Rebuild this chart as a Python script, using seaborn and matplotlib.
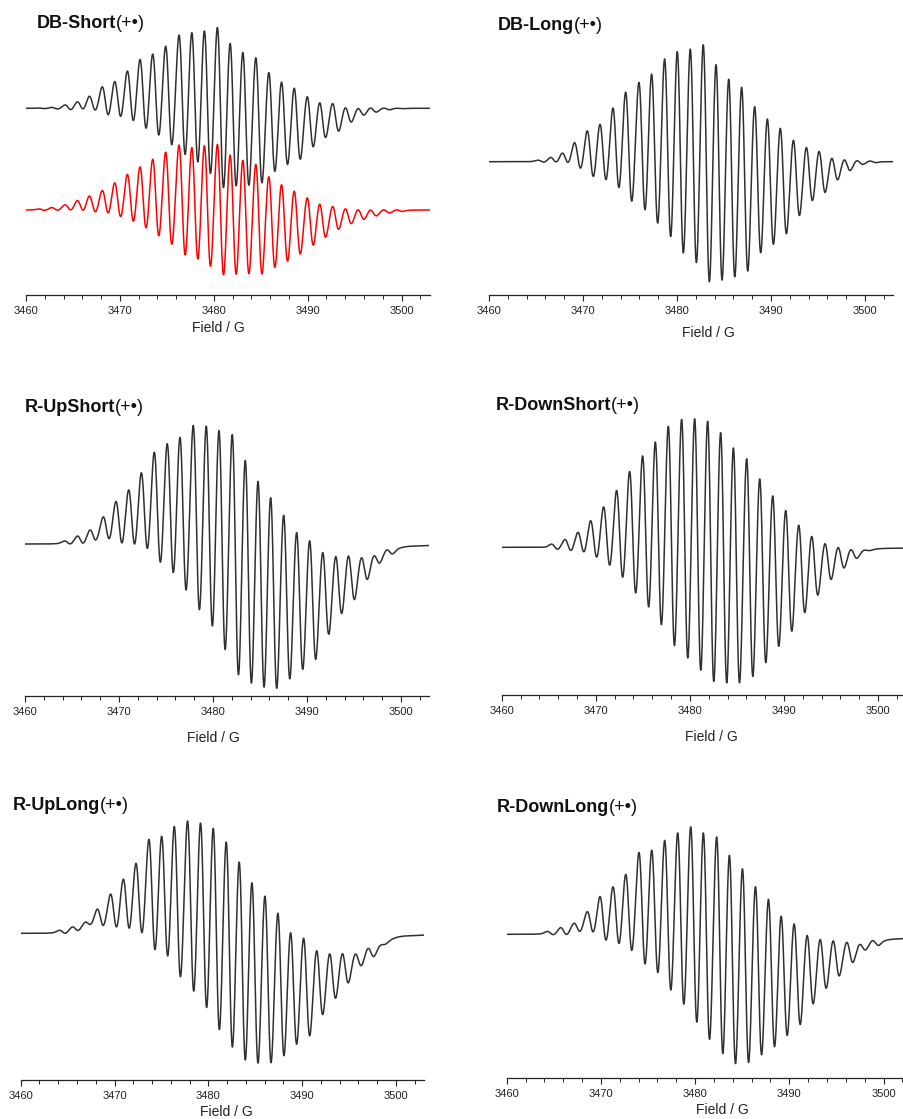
import numpy as np
import matplotlib
matplotlib.use("Agg")
import matplotlib.pyplot as plt
import seaborn as sns

# ---------------- data ----------------
# Each spectrum: hyperfine line centres (G), level of the upper extremum and of the
# lower extremum of every derivative line (a.u., relative to the baseline).

# DB-Short: experiment (black) and simulation (red)
DBS_FIELD = [3461.70, 3463.06, 3464.48, 3465.79, 3467.07, 3468.45, 3469.77, 3471.12, 3472.47,
             3473.82, 3475.20, 3476.63, 3477.98, 3479.32, 3480.71, 3482.06, 3483.41, 3484.80,
             3486.18, 3487.53, 3488.88, 3490.27, 3491.58, 3492.97, 3494.32, 3495.67, 3496.98,
             3498.40, 3499.75]
DBS_EXP_PEAK = [0.3, 0.8, 3.3, 6.7, 13.3, 22.3, 27.7, 39.3, 51.7, 56, 64.3, 75.7, 79, 81.7, 82.7,
                67.7, 59.3, 53.3, 38.3, 29.3, 22.3, 13.3, 9, 5.7, 1.7, 1.5, 1.0, 0.5, 0.3]
DBS_EXP_TROUGH = [-0.3, -1.0, -2.3, -2.3, -2.7, -8.3, -11, -15, -21.7, -29.3, -38.3, -49.3, -57.7,
                  -66.7, -82.3, -81.7, -80, -76.7, -65.7, -58.3, -53, -41, -29.7, -24.3, -15, -6.7,
                  -4, -1.5, -0.3]
DBS_SIM_PEAK = [1.0, 2.7, 5.3, 10, 15, 20, 28.3, 37.7, 44.3, 52.7, 61, 66, 64.3, 69.3, 67.3, 56.7,
                54, 47.7, 34.3, 28.3, 21.7, 13.3, 8.3, 5, 2.3, 1, 1, 0.5, 0.5]
DBS_SIM_TROUGH = [-0.7, -0.5, -1, -1.7, -2.7, -5, -9, -12.7, -20.7, -28.3, -34.3, -47.7, -54, -57,
                  -67.3, -68.7, -65, -65.3, -60.7, -53.3, -45, -37.3, -28.3, -20, -14.3, -10, -6,
                  -3.3, -1.5]

# DB-Long
DBL_FIELD = [3465.53, 3466.88, 3468.12, 3469.43, 3470.78, 3472.13, 3473.51, 3474.86, 3476.28,
             3477.62, 3479.01, 3480.35, 3481.74, 3483.12, 3484.47, 3485.82, 3487.20, 3488.58,
             3489.93, 3491.31, 3492.70, 3494.08, 3495.43, 3496.77, 3498.09, 3499.43, 3500.85]
DBL_PEAK = [1.5, 4.3, 9.3, 20, 32.3, 38.3, 56.3, 74.3, 80.7, 91.7, 106.7, 116, 117.3, 120.7, 102.3,
            87.3, 79.3, 60, 46.7, 35.7, 24.3, 17.7, 12.3, 5, 4.3, 2.3, 0.7]
DBL_TROUGH = [-1, -1.7, -2.3, -8.3, -16.7, -21.7, -30, -40, -53.3, -65.7, -81, -95, -104.3, -125,
              -124, -120.7, -113.3, -94.3, -85.7, -75.7, -56.7, -40, -32.3, -20, -9, -2.3, -1]

# R-UpShort
RUS_FIELD = [3464.53, 3465.89, 3467.23, 3468.65, 3470.00, 3471.35, 3472.70, 3474.08, 3475.46,
             3476.81, 3478.23, 3479.61, 3480.96, 3482.38, 3483.76, 3485.11, 3486.45, 3487.84,
             3489.22, 3490.60, 3491.99, 3493.37, 3494.72, 3496.10, 3497.41, 3498.79, 3500.17,
             3501.55, 3502.93]
RUS_PEAK = [3, 8.3, 15, 29.7, 44.7, 55, 76.3, 95.7, 103.3, 109.7, 122.3, 120.7, 118, 109.7, 84,
            67.3, 51.3, 31.7, 13, 5.3, -5, -7.7, -8.7, -11, -7, -4.3, -2, -2, -2]
RUS_TROUGH = [-1, -1, 1.7, 3.3, -1.7, -6, -6.7, -20, -32, -48.3, -67, -86, -105.3, -132, -144.3,
              -147.7, -147.7, -137.7, -130.3, -121, -95, -72, -58.7, -38.7, -19.3, -11, -2, -2, -2]

# R-DownShort
RDS_FIELD = [3465.63, 3467.05, 3468.43, 3469.78, 3471.16, 3472.54, 3473.92, 3475.30, 3476.65,
             3478.03, 3479.45, 3480.83, 3482.21, 3483.59, 3484.94, 3486.36, 3487.74, 3489.12,
             3490.50, 3491.88, 3493.26, 3494.68, 3496.06, 3497.41, 3498.82, 3500.20, 3501.60,
             3503.00]
RDS_PEAK = [3, 8.3, 15.7, 28.3, 42.3, 59, 79, 95, 110, 126.3, 131.3, 134, 131.3, 119, 106.3, 90.7,
            73, 56.3, 39.7, 25.7, 13.3, 5, 1.7, -1, -1.7, -1, -1, -1]
RDS_TROUGH = [-2.7, -4.3, -6.7, -11.7, -20.3, -33.3, -49.3, -65, -82.7, -101, -116, -127.7, -138.7,
              -142.7, -138.7, -134.7, -120, -102, -87.7, -67.7, -50, -34.3, -21.7, -12, -3.3, -1,
              -1, -1]

# R-UpLong
RUL_FIELD = [3464.45, 3465.83, 3467.18, 3468.49, 3469.91, 3471.26, 3472.61, 3474.00, 3475.35,
             3476.70, 3478.12, 3479.50, 3480.85, 3482.24, 3483.62, 3484.97, 3486.36, 3487.74,
             3489.09, 3490.48, 3491.87, 3493.25, 3494.60, 3495.99, 3497.34, 3498.61, 3500.00,
             3501.40, 3502.80]
RUL_PEAK = [3, 6.7, 11.7, 26.7, 40.7, 56.7, 74, 97.3, 100.7, 109, 116.7, 111.7, 109.3, 92.3, 70,
            55, 37.7, 24.3, 2.7, -3.3, -15, -17.7, -16.7, -18.3, -12.7, -9, -2.5, -2.5, -2.5]
RUL_TROUGH = [-1, 1, 6, 6.7, 2.7, 1, -1.7, -19.3, -25.7, -46, -57.7, -78.3, -96, -114, -132.3,
              -131.7, -134, -124, -115, -106.7, -85, -68.3, -51.7, -34.3, -25, -11.7, -2.5, -2.5,
              -2.5]

# R-DownLong
RDL_FIELD = [3464.65, 3466.05, 3467.47, 3468.88, 3470.23, 3471.61, 3472.96, 3474.37, 3475.72,
             3477.10, 3478.48, 3479.86, 3481.20, 3482.62, 3483.96, 3485.35, 3486.73, 3488.11,
             3489.45, 3490.83, 3492.21, 3493.59, 3494.97, 3496.42, 3497.77, 3499.15, 3500.50,
             3501.90, 3503.30]
RDL_PEAK = [3, 7, 11.7, 25, 39.3, 49.3, 62, 87, 87, 95, 106.7, 110, 106.7, 98.7, 82, 68.7, 50.3,
            39.3, 22.7, 12, 2.7, -2.3, -4.7, -7.3, -7.3, -5.7, -4.5, -4.5, -4.5]
RDL_TROUGH = [-1, -1.3, 1, 1, -8, -12.3, -20, -30.7, -40.7, -60.7, -71.3, -93, -105.7, -123, -134,
              -131.7, -125, -115.7, -104, -95, -72.3, -56.3, -44, -30.7, -15.7, -12.3, -4.5, -4.5,
              -4.5]

TITLES = ["DB-Short", "DB-Long", "R-UpShort", "R-DownShort", "R-UpLong", "R-DownLong"]
TITLE_SUFFIX = "(+•)"
MAJOR_TICKS = [3460, 3470, 3480, 3490, 3500]
X_LABEL = "Field / G"

# ---------------- line-shape model ----------------
FIELD = np.linspace(3460, 3503, 4301)


def spectrum(centres, peaks, troughs, sigma=0.345, spread=1.0, spacing=1.37):
    c = np.asarray(centres, float)[:, None]
    p = np.asarray(peaks, float)[:, None]
    q = np.asarray(troughs, float)[:, None]
    mid = (p + q) / 2.0
    amp = (p - q) / 2.0
    u = (FIELD[None, :] - c) / sigma
    deriv = -u * np.exp(0.5 - u ** 2 / 2.0)
    w = spacing / (spread * np.sqrt(2 * np.pi)) * np.exp(-(FIELD[None, :] - c) ** 2 / (2 * spread ** 2))
    return (amp * deriv + mid * w).sum(axis=0)


# ---------------- figure ----------------
sns.set_theme(style="ticks")
plt.rcParams["font.family"] = ["Liberation Sans", "DejaVu Sans"]

W, H = 904, 1119
fig = plt.figure(figsize=(W / 100, H / 100), dpi=100)
fig.patch.set_facecolor("white")

# panel geometry in pixels: x at 3460, px per gauss, axis line y, baseline y, top y
panels = [
    dict(x0=26.0, ppg=9.39, axis=295.0, base=108.3, top=0.0,
         title=(37, 23), xl=(218, 328)),
    dict(x0=489.0, ppg=9.40, axis=295.0, base=161.7, top=0.0,
         title=(498, 25), xl=(708, 333)),
    dict(x0=25.0, ppg=9.40, axis=696.0, base=544.0, top=380.0,
         title=(25, 407), xl=(213, 738)),
    dict(x0=501.7, ppg=9.41, axis=695.0, base=547.3, top=380.0,
         title=(496, 406), xl=(711, 737)),
    dict(x0=20.7, ppg=9.38, axis=1080.0, base=933.3, top=770.0,
         title=(13, 806), xl=(226, 1112)),
    dict(x0=506.7, ppg=9.42, axis=1078.3, base=934.3, top=770.0,
         title=(497, 807), xl=(722, 1110)),
]

EXP_COLOR = "#303030"
SIM_COLOR = "#ff0000"
curves = [
    [(DBS_FIELD, DBS_EXP_PEAK, DBS_EXP_TROUGH, 0.0, EXP_COLOR),
     (DBS_FIELD, DBS_SIM_PEAK, DBS_SIM_TROUGH, -101.7, SIM_COLOR)],
    [(DBL_FIELD, DBL_PEAK, DBL_TROUGH, 0.0, EXP_COLOR)],
    [(RUS_FIELD, RUS_PEAK, RUS_TROUGH, 0.0, EXP_COLOR)],
    [(RDS_FIELD, RDS_PEAK, RDS_TROUGH, 0.0, EXP_COLOR)],
    [(RUL_FIELD, RUL_PEAK, RUL_TROUGH, 0.0, EXP_COLOR)],
    [(RDL_FIELD, RDL_PEAK, RDL_TROUGH, 0.0, EXP_COLOR)],
]

for spec, title, curve_set in zip(panels, TITLES, curves):
    x1 = spec["x0"] + 43 * spec["ppg"]
    hpx = spec["axis"] - spec["top"]
    ax = fig.add_axes([spec["x0"] / W, 1 - spec["axis"] / H, (x1 - spec["x0"]) / W, hpx / H])
    ax.patch.set_alpha(0)
    for cen, pk, tr, off, col in curve_set:
        y = spectrum(cen, pk, tr) + off
        sns.lineplot(x=FIELD, y=y, ax=ax, color=col, linewidth=1.1,
                     estimator=None, sort=False, legend=False)
    ax.set_xlim(3460, 3503)
    ax.set_ylim(-(spec["axis"] - spec["base"]), spec["base"] - spec["top"])
    ax.set_yticks([])
    ax.set_ylabel("")
    for s in ["left", "top", "right"]:
        ax.spines[s].set_visible(False)
    ax.spines["bottom"].set_linewidth(0.9)
    ax.spines["bottom"].set_color("#222222")
    ax.set_xticks(MAJOR_TICKS)
    ax.set_xticklabels([str(t) for t in MAJOR_TICKS])
    ax.set_xticks(np.arange(3460, 3503, 2), minor=True)
    ax.tick_params(axis="x", which="major", bottom=True, direction="out", length=4.5,
                   width=0.8, labelsize=8, pad=3.5, color="#222222", labelcolor="#222222")
    ax.tick_params(axis="x", which="minor", bottom=True, direction="out", length=2.8,
                   width=0.7, color="#222222")
    ax.set_xlabel(X_LABEL, fontsize=10, color="#222222")
    lx = (spec["xl"][0] - spec["x0"]) / (x1 - spec["x0"])
    ly = -(spec["xl"][1] - spec["axis"]) / hpx
    ax.xaxis.set_label_coords(lx, ly)
    ax.xaxis.label.set_va("center")

    tx, ty = spec["title"]
    t = fig.text(tx / W, 1 - ty / H, title, fontsize=13, fontweight="bold",
                 ha="left", va="center", color="#111111")
    ax.annotate(TITLE_SUFFIX, xy=(1, 0), xycoords=t, xytext=(-0.5, 0), textcoords="offset points",
                fontsize=13, ha="left", va="bottom", color="#111111", annotation_clip=False)

fig.savefig("out.png", dpi=100, facecolor="white")
